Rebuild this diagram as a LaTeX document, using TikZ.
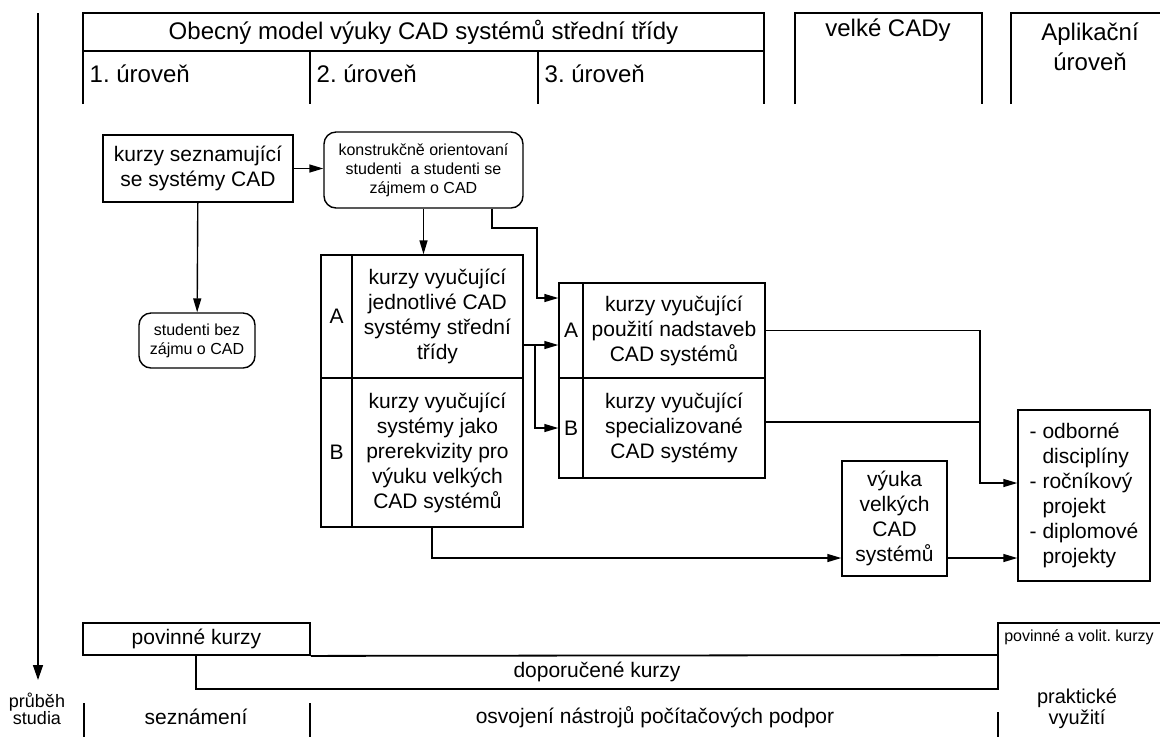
\documentclass[tikz,border=0pt]{standalone}
\usepackage{fontspec}
\setmainfont{Liberation Sans}
\usetikzlibrary{arrows.meta}
\frenchspacing

\begin{document}
\begin{tikzpicture}[
       x=0.5pt, y=-0.5pt,
       line width=0.7pt,
       txt/.style={font=\fontsize{10.5}{12.5}\selectfont, align=center, inner sep=0pt},
       head/.style={font=\fontsize{12}{15}\selectfont, align=center, inner sep=0pt},
       small/.style={font=\fontsize{8}{9.5}\selectfont, align=center, inner sep=0pt},
       box/.style={txt, rectangle, draw=black},
       rbox/.style={small, rectangle, draw=black, rounded corners=6pt},
       arrow/.style={-{Triangle[length=7pt,width=4pt]}, black},
       frame/.style={line width=0.9pt}
   ]
   \useasboundingbox (0,0) rectangle (1160,736);

   % time axis on the left
   \coordinate (tstart) at (38,13);
   \coordinate (tend) at (38,680);
   \draw[-{Triangle[length=7.5pt,width=5pt]}] (tstart) -- (tend);
   \node[txt, font=\fontsize{9}{8.5}\selectfont] (prubeh) at (37,709) {průběh\\studia};

   % header frames
   \draw[frame] (83,104) |- (764,13) -- (764,104);
   \draw[frame] (83,51) -- (764,51);
   \draw[frame] (310,51) -- (310,104);
   \draw[frame] (538,51) -- (538,104);
   \draw[frame] (795,104) |- (982,13) -- (982,104);
   \draw[frame] (1011,104) |- (1165,13);

   \node[head] (model) at (423.5,32) {Obecný model výuky CAD systémů střední třídy};
   \node[head, anchor=west] (lev1) at (89,74) {1. úroveň};
   \node[head, anchor=west] (lev2) at (316,74) {2. úroveň};
   \node[head, anchor=west] (lev3) at (544,74) {3. úroveň};
   \node[head] (bigcad) at (888,30) {velké CADy};
   \node[head] (aplik) at (1090,47) {Aplikační\\úroveň};

   % course boxes
   \node[box, minimum width=95pt, minimum height=33.5pt] (seznam) at (198,168.5) {kurzy seznamující\\se systémy CAD};
   \node[rbox, minimum width=99.5pt, minimum height=38pt] (konstr) at (423.5,170) {konstrukčně orientovaní\\studenti~ a studenti se\\zájmem o CAD};
   \node[rbox, minimum width=58pt, minimum height=27.5pt] (bezzajmu) at (197,340.5) {studenti bez\\zájmu o CAD};

   \node[box, minimum width=15.5pt, minimum height=61.5pt] (labA) at (336.5,316.5) {A};
   \node[box, minimum width=85.5pt, minimum height=61.5pt] (jednotl) at (437.5,316.5) {kurzy vyučující\\jednotlivé CAD\\systémy střední\\třídy};
   \node[box, minimum width=15.5pt, minimum height=74.5pt] (labB) at (336.5,452.5) {B};
   \node[box, minimum width=85.5pt, minimum height=74.5pt] (prerekv) at (437.5,452.5) {kurzy vyučující\\systémy jako\\prerekvizity pro\\výuku velkých\\CAD systémů};

   \node[box, minimum width=12pt, minimum height=47.5pt] (labA2) at (571,330.5) {A};
   \node[box, minimum width=91pt, minimum height=47.5pt] (nadstav) at (674,330.5) {kurzy vyučující\\použití nadstaveb\\CAD systémů};
   \node[box, minimum width=12pt, minimum height=50pt] (labB2) at (571,428) {B};
   \node[box, minimum width=91pt, minimum height=50pt] (special) at (674,428) {kurzy vyučující\\specializované\\CAD systémy};

   \node[box, minimum width=52.5pt, minimum height=57.5pt] (velke) at (894.5,518.5) {výuka\\velkých\\CAD\\systémů};
   \node[box, align=left, minimum width=66pt, minimum height=85.5pt] (praxe) at (1084,495.5) {- odborné\\\phantom{-} disciplíny\\- ročníkový\\\phantom{-} projekt\\- diplomové\\\phantom{-} projekty};

   % bend points
   \coordinate (c1) at (492,228);
   \coordinate (c2) at (537,298);
   \coordinate (c3) at (535,345);
   \coordinate (c4) at (980,483);
   \coordinate (c5) at (980,422);
   \coordinate (c6) at (432,558);

   \draw[arrow] (seznam.east) -- (seznam.east -| konstr.west);
   \draw[arrow] (seznam) -- (bezzajmu);
   \draw[arrow] (konstr.south) -- (konstr.south |- jednotl.north);
   \draw[arrow] (konstr.south -| c1) -- (c1) -| (c2) -- (c2 -| labA2.west);
   \draw[arrow] (c3 -| jednotl.east) -- (c3 -| labA2.west);
   \draw[arrow] (c3) |- (labB2.west);
   \draw[arrow] (nadstav.east) -| (c4) -- (c4 -| praxe.west);
   \draw (c5 -| special.east) -- (c5);
   \draw[arrow] (c6 |- prerekv.south) -- (c6) -- (c6 -| velke.west);
   \draw[arrow] (c6 -| velke.east) -- (c6 -| praxe.west);

   % course types along the bottom
   \node[txt, draw, frame, minimum width=113.5pt, minimum height=16pt] (povinne) at (196.5,639) {povinné kurzy};
   \draw[frame] (povinne.south east) -- (998,655);
   \draw[frame] (196,655) |- (998,689) -- (998,623) -- (1165,623);
   \node[txt] (doporuc) at (597,672) {doporučené kurzy};
   \node[small] (volit) at (1079,637) {povinné a volit. kurzy};

   % study phases
   \draw[frame] (84,703) -- (84,740);
   \draw[frame] (310,703) -- (310,740);
   \draw[frame] (998,712) -- (998,740);
   \node[txt] (seznameni) at (196,717) {seznámení};
   \node[txt] (osvojeni) at (655,717) {osvojení nástrojů počítačových podpor};
   \node[txt, font=\fontsize{10}{8.5}\selectfont] (prakt) at (1077,709) {praktické\\využití};
   \end{tikzpicture}
\end{document}
